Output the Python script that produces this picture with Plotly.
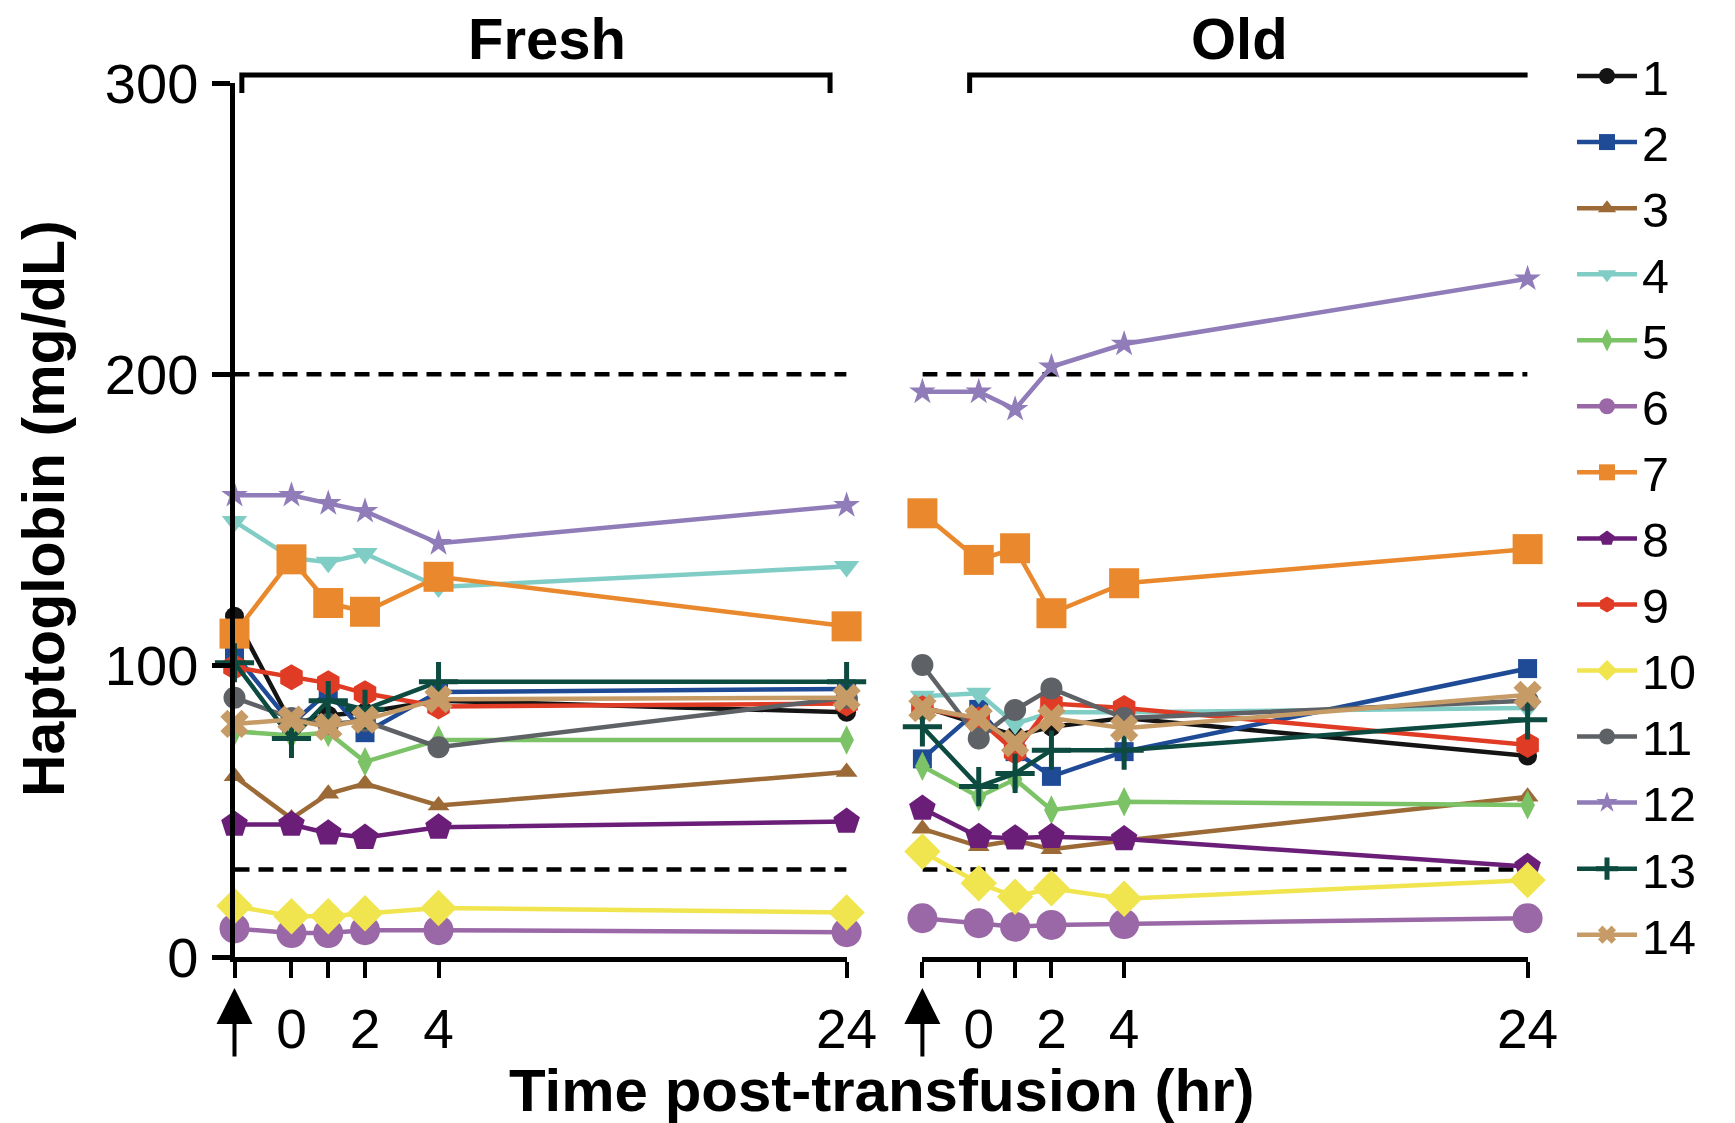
import plotly.graph_objects as go

# Sampling times (hours post-transfusion); "pre" is the pre-transfusion draw
TIME_POINTS = ["pre", 0, 1, 2, 4, 24]
LABELLED_TIMES = [0, 2, 4, 24]
UNLABELLED_TIMES = ["pre", 1]

SUBJECTS = [str(i) for i in range(1, 15)]

# Haptoglobin (mg/dL), fresh-blood transfusion, one list per subject
fresh_1 = [117, 80, 83, 84, 88, 84]
fresh_2 = [104, 80, 91, 77, 91, 92]
fresh_3 = [62, 47.5, 56, 59.5, 52, 63.5]
fresh_4 = [149.5, 137, 135.5, 138.5, 127, 134]
fresh_5 = [77.5, 76, 77, 67, 74.5, 74.5]
fresh_6 = [9.8, 8.2, 8.2, 9.2, 9.2, 8.5]
fresh_7 = [111, 136.5, 121.5, 118.5, 130.5, 113.5]
fresh_8 = [45.5, 45.5, 42.5, 41, 44.5, 46.5]
fresh_9 = [99.5, 96, 94, 90.5, 86, 87]
fresh_10 = [17.5, 14, 14, 15, 16.8, 15.3]
fresh_11 = [89, 82, 80, 81, 72, 89]
fresh_12 = [158.5, 158.5, 155.7, 153, 142, 155]
fresh_13 = [101, 75, 88, 85, 94.5, 94.5]
fresh_14 = [80, 81.5, 79, 81.5, 88.5, 89]

# Haptoglobin (mg/dL), old-blood transfusion
old_1 = [86, 80, 76, 79, 82, 69]
old_2 = [68, 85, 70.5, 62, 70.5, 99]
old_3 = [44, 38, 40, 37, 40, 55]
old_4 = [89.5, 90.5, 80, 84, 84, 85.5]
old_5 = [65.5, 55, 61, 50.5, 53.3, 52.2]
old_6 = [13.3, 11.6, 10.4, 11, 11.3, 13.3]
old_7 = [152.3, 136.3, 140.3, 118, 128.3, 140]
old_8 = [51, 41.3, 40.8, 41.3, 40.5, 31]
old_9 = [85.4, 81.5, 70.5, 87, 85.5, 72.8]
old_10 = [36.2, 25.3, 20.7, 23.6, 20, 26.4]
old_11 = [100.2, 75, 84.8, 92.2, 82, 88]
old_12 = [194, 194, 188, 202.6, 210.4, 232.8]
old_13 = [79, 58.5, 63, 71, 71, 81.4]
old_14 = [85.4, 82, 73.4, 82, 78.5, 90]

FRESH = [fresh_1, fresh_2, fresh_3, fresh_4, fresh_5, fresh_6, fresh_7,
         fresh_8, fresh_9, fresh_10, fresh_11, fresh_12, fresh_13, fresh_14]
OLD = [old_1, old_2, old_3, old_4, old_5, old_6, old_7,
       old_8, old_9, old_10, old_11, old_12, old_13, old_14]

# Reference limits of the normal range (mg/dL)
NORMAL_LOW = 30
NORMAL_HIGH = 200

COLORS = ["#141414", "#1f4b96", "#9c6a36", "#80cdc6", "#7cc266", "#9a68a6",
          "#e9882c", "#6b1e78", "#e03b24", "#f0e54e", "#5e6165", "#8f7cb8",
          "#0d4a3f", "#c79b66"]
SYMBOLS = ["circle", "square", "triangle-up", "triangle-down", "diamond-tall",
           "circle", "square", "pentagon", "hexagon", "diamond", "circle",
           "star", "cross-thin", "x"]
SIZES = [19, 19, 19, 22, 21, 30, 30, 28, 26, 28, 22, 20, 28, 25]


def axis_pos(t):
    """Compressed time axis: 'pre' sits left of 0 and 24 h follows a break after 4 h."""
    if t == "pre":
        return -1.55
    if t == 24:
        return 15.1
    return float(t)


XPOS = [axis_pos(t) for t in TIME_POINTS]
XRANGE = [XPOS[0], XPOS[-1]]

W, H = 1735, 1123
FONT = "Liberation Sans, Arial, sans-serif"


def px_x(p):
    return p / W


def px_y(p):
    return 1 - p / H


fig = go.Figure()

for panel, (data, xa) in enumerate([(FRESH, "x"), (OLD, "x2")]):
    for i, vals in enumerate(data):
        marker = dict(symbol=SYMBOLS[i], size=SIZES[i], color=COLORS[i],
                      line=dict(width=0, color=COLORS[i]))
        if SYMBOLS[i] == "cross-thin":
            marker["line"] = dict(width=5, color=COLORS[i])
        fig.add_trace(go.Scatter(
            x=XPOS, y=vals, xaxis=xa, yaxis="y",
            mode="lines+markers", name=SUBJECTS[i], legendgroup=SUBJECTS[i],
            showlegend=(panel == 0), cliponaxis=False,
            line=dict(color=COLORS[i], width=4.5), marker=marker,
        ))

axis_common = dict(
    range=XRANGE, showline=True, linecolor="black", linewidth=5,
    ticks="outside", tickvals=[axis_pos(t) for t in LABELLED_TIMES],
    ticktext=[str(t) for t in LABELLED_TIMES], ticklen=16,
    tickwidth=4, tickcolor="black", showgrid=False, zeroline=False,
    minor=dict(tickvals=[axis_pos(t) for t in UNLABELLED_TIMES], ticks="outside",
               ticklen=16, tickwidth=4, tickcolor="black", showgrid=False),
    tickfont=dict(family=FONT, size=55, color="black"),
    ticklabelstandoff=4, anchor="y",
)

fig.update_layout(
    width=W, height=H,
    margin=dict(l=0, r=0, t=0, b=0, autoexpand=False),
    paper_bgcolor="white", plot_bgcolor="white",
    xaxis=dict(domain=[px_x(234.5), px_x(846.6)], **axis_common),
    xaxis2=dict(domain=[px_x(922.4), px_x(1527.6)], **axis_common),
    yaxis=dict(
        domain=[px_y(957), px_y(83)], range=[0, 300], anchor="x",
        showline=True, linecolor="black", linewidth=5,
        ticks="outside", tickvals=[0, 100, 200, 300], ticklen=18,
        tickwidth=5, tickcolor="black", showgrid=False, zeroline=False,
        tickfont=dict(family=FONT, size=56, color="black"),
        ticklabelstandoff=2,
    ),
    showlegend=True,
    legend=dict(
        x=px_x(1572), y=px_y(38), xanchor="left", yanchor="top",
        font=dict(family=FONT, size=48.5, color="black"),
        bgcolor="rgba(0,0,0,0)", itemsizing="trace", tracegroupgap=0,
        itemwidth=60,
    ),
)

# Normal-range limits as dashed lines in both panels
for xa in ["x", "x2"]:
    for level in (NORMAL_HIGH, NORMAL_LOW):
        fig.add_shape(type="line", xref=xa, yref="y",
                      x0=XRANGE[0], x1=XRANGE[1], y0=level, y1=level,
                      line=dict(color="black", width=4.5, dash="15px,9px"),
                      layer="below")

# Group brackets above each panel
bracket_y, bracket_end = px_y(75), px_y(93)
for xa, x0, x1 in [("x", -1.35, 14.65), ("x2", -0.25, 15.9)]:
    fig.add_shape(type="path", xref=xa, yref="paper",
                  path=f"M {x0},{bracket_end} L {x0},{bracket_y} "
                       f"L {x1},{bracket_y} L {x1},{bracket_end}",
                  line=dict(color="black", width=5))

title_font = dict(family=FONT, size=58, color="black", weight="bold")
fig.add_annotation(text="Fresh", x=px_x(547), y=px_y(39), xref="paper", yref="paper",
                   showarrow=False, font=title_font, xanchor="center", yanchor="middle")
fig.add_annotation(text="Old", x=px_x(1239), y=px_y(39), xref="paper", yref="paper",
                   showarrow=False, font=title_font, xanchor="center", yanchor="middle")

# Axis titles
fig.add_annotation(text="Time post-transfusion (hr)", x=px_x(882), y=px_y(1090),
                   xref="paper", yref="paper", showarrow=False,
                   font=dict(family=FONT, size=60, color="black", weight="bold"),
                   xanchor="center", yanchor="middle")
fig.add_annotation(text="Haptoglobin (mg/dL)", x=px_x(44), y=px_y(509),
                   xref="paper", yref="paper", showarrow=False, textangle=-90,
                   font=dict(family=FONT, size=59, color="black", weight="bold"),
                   xanchor="center", yanchor="middle")

# Transfusion arrows under the "pre" position of each panel
for xa in ["x", "x2"]:
    fig.add_annotation(text="", x=XPOS[0], y=px_y(988), xref=xa, yref="paper",
                       ax=0, ay=70, showarrow=True, arrowhead=2, arrowsize=1.8,
                       arrowwidth=4, arrowcolor="black")

fig.write_html("out.html")
